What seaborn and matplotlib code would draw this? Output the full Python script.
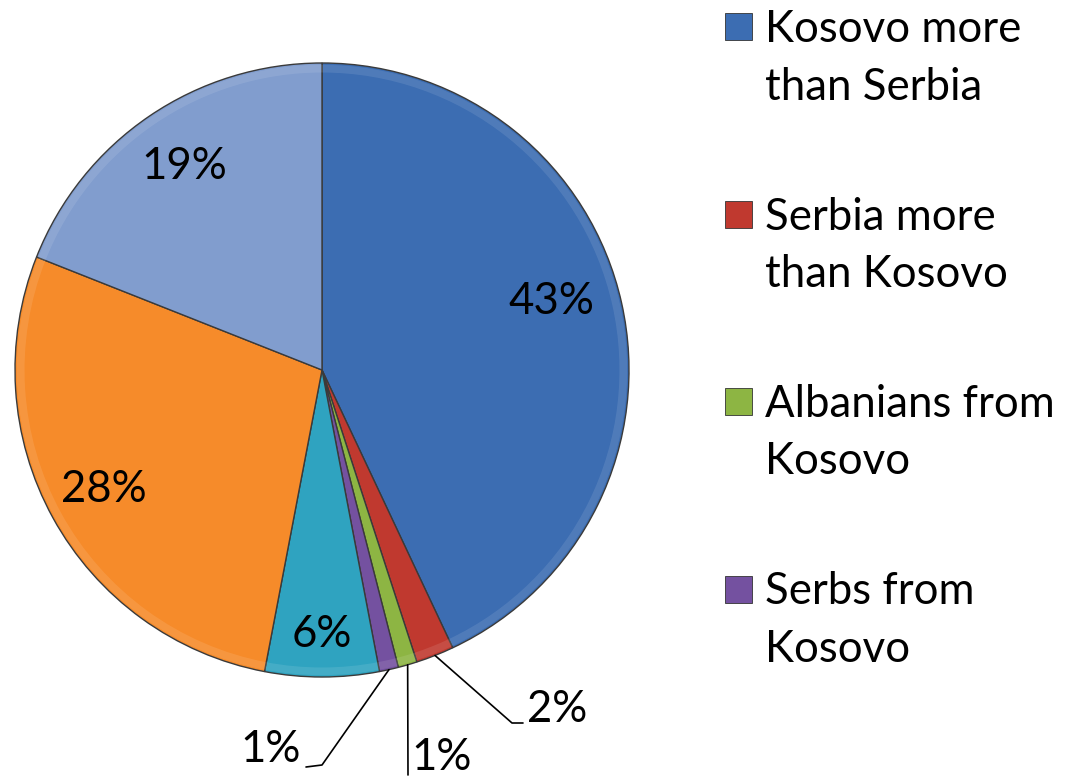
import matplotlib
matplotlib.use("Agg")
import matplotlib.pyplot as plt
import seaborn as sns
import numpy as np
from matplotlib.patches import Rectangle

# Survey answers, clockwise from 12 o'clock
categories = [
    "Kosovo more\nthan Serbia",
    "Serbia more\nthan Kosovo",
    "Albanians from\nKosovo",
    "Serbs from\nKosovo",
    "Both equally",
    "Neither",
    "Don't know",
]
shares = [43, 2, 1, 1, 6, 28, 19]
pct_labels = ["43%", "2%", "1%", "1%", "6%", "28%", "19%"]
legend_count = 4  # only the first four answers fit in the key

palette = sns.color_palette(
    ["#3C6DB2", "#C0392F", "#8DB543", "#7451A0", "#2FA3C0", "#F68B2A", "#819DCE"]
)

sns.set_theme(style="white")
plt.rcParams["font.family"] = ["Lato", "DejaVu Sans"]

W, H = 1073, 782
fig = plt.figure(figsize=(W / 100, H / 100), dpi=100)
fig.patch.set_facecolor("white")

# pie geometry in pixels
cx, cy, R = 322, 370, 307
half = 330
ax = fig.add_axes([(cx - half) / W, (H - cy - half) / H, 2 * half / W, 2 * half / H])

wedges, _ = ax.pie(
    shares,
    colors=palette,
    startangle=90,
    counterclock=False,
    radius=1.0,
    wedgeprops=dict(edgecolor="#3a3a3a", linewidth=1.0),
)

# subtle bevel: lighter rim just inside the outer edge
ax.pie(
    shares,
    colors=["white"] * len(shares),
    startangle=90,
    counterclock=False,
    radius=0.994,
    wedgeprops=dict(width=0.025, edgecolor="none", alpha=0.10),
)

ax.set_xlim(-half / R, half / R)
ax.set_ylim(-half / R, half / R)
ax.set_aspect("equal")
ax.axis("off")

# percentage labels inside the larger slices
fs = 31.5
bounds = np.cumsum([0] + shares) / sum(shares)
inside = {0: (0.78, -4), 4: (0.86, 0), 5: (0.81, 0), 6: (0.80, 0)}
for i, (r, shift) in inside.items():
    mid = (bounds[i] + bounds[i + 1]) / 2 * 2 * np.pi + np.deg2rad(shift)
    x, y = r * np.sin(mid), r * np.cos(mid)
    ax.text(x, y, pct_labels[i], ha="center", va="center", fontsize=fs, color="black")


def px(xp, yp):
    return (xp - cx) / R, (cy - yp) / R


# outside labels with leader lines for the thin slices
leaders = {
    1: ([(512, 723), (523, 723)], (527, 710), "left"),
    2: ([(408, 775)], (411, 757), "left"),
    3: ([(322, 765), (306, 767)], (301, 750), "right"),
}
for i, (pts, tpos, ha) in leaders.items():
    mid = (bounds[i] + bounds[i + 1]) / 2 * 2 * np.pi
    start = (np.sin(mid), np.cos(mid))
    coords = [start] + [px(*p) for p in pts]
    xs, ys = zip(*coords)
    ax.plot(xs, ys, color="black", lw=1.2, clip_on=False)
    tx, ty = px(*tpos)
    ax.text(tx, ty, pct_labels[i], ha=ha, va="center", fontsize=fs,
            color="black", clip_on=False)

# legend key drawn in figure pixels
sq = 27
for k in range(legend_count):
    top = 13 + k * 187.5
    fig.patches.append(
        Rectangle((725 / W, (H - top - sq) / H), sq / W, sq / H,
                  transform=fig.transFigure, facecolor=palette[k],
                  edgecolor="#333333", linewidth=0.6)
    )
    fig.text(765 / W, (H - top + 4) / H, categories[k], ha="left", va="top",
             fontsize=fs, color="black", linespacing=1.5)

fig.savefig("out.png", dpi=100, facecolor="white")
